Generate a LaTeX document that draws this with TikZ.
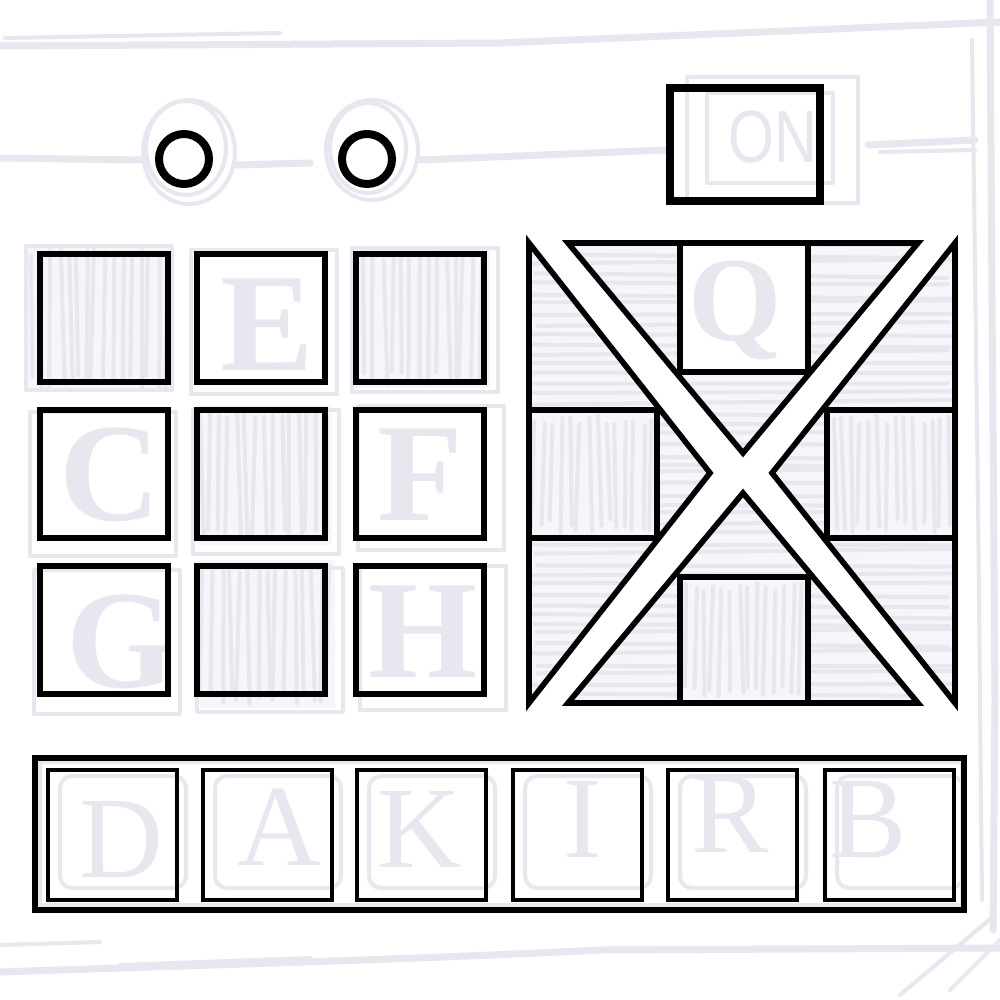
\documentclass[tikz,border=0pt]{standalone}
\usepackage{fontspec}
\setmainfont{Liberation Serif}
\newfontfamily\sansf{Liberation Sans}
\definecolor{faint}{HTML}{E6E7EF}
\definecolor{faintfill}{HTML}{F6F6FA}

\newcommand{\vhatch}[4]{%
  \fill[faintfill] (#1,#2) rectangle (#3,#4);
  \pgfmathtruncatemacro{\hn}{(#3-#1-6)/9}%
  \foreach \i in {0,...,\hn}{%
    \pgfmathsetmacro{\hxa}{#1+4+9*\i+2*rand}%
    \pgfmathsetmacro{\hxb}{\hxa+4*rand}%
    \pgfmathsetmacro{\hya}{#2+3+10*rnd}%
    \pgfmathsetmacro{\hyb}{#4-3-14*rnd}%
    \draw[hatchln] (\hxa,\hya) -- (\hxb,\hyb);
  }%
}
\newcommand{\hhatch}[4]{%
  \fill[faintfill] (#1,#2) rectangle (#3,#4);
  \pgfmathtruncatemacro{\hn}{(#4-#2-6)/10}%
  \foreach \i in {0,...,\hn}{%
    \pgfmathsetmacro{\hya}{#2+4+10*\i+2*rand}%
    \pgfmathsetmacro{\hyb}{\hya+5*rand}%
    \pgfmathsetmacro{\hxa}{#1+3+10*rnd}%
    \pgfmathsetmacro{\hxb}{#3-3-10*rnd}%
    \draw[hatchln] (\hxa,\hya) -- (\hxb,\hyb);
  }%
}

\begin{document}
\begin{tikzpicture}[x=0.5pt,y=-0.5pt,
  ink/.style={draw=black,line width=3pt},
  puz/.style={draw=black,line width=2.8pt,line join=miter},
  slot/.style={draw=black,line width=2.3pt},
  dotring/.style={draw=black,line width=4pt},
  onbox/.style={draw=black,line width=4pt},
  sk/.style={draw=faint,line width=2pt,line cap=round,line join=round},
  skb/.style={draw=faint,line width=3.5pt,line cap=round,line join=round},
  hatchln/.style={draw=faint,line width=2pt,line cap=round},
  serifletter/.style={text=faint,inner sep=0pt,anchor=base,font=\bfseries\fontsize{70}{70}\selectfont},
  handletter/.style={text=faint,inner sep=0pt,anchor=base,font=\fontsize{58}{58}\selectfont},
  ontext/.style={text=faint,inner sep=0pt,anchor=base,xscale=0.8,transform shape,font=\sansf\fontsize{37}{37}\selectfont},
]
\useasboundingbox (0,0) rectangle (1000,1000);
\fill[white] (0,0) rectangle (1000,1000);
\pgfmathsetseed{12}

% ---------- faint background sketch ----------
\draw[skb] (0,46) -- (500,43) -- (1000,22);
\draw[sk] (5,38) -- (280,33);
\draw[skb] (0,158) -- (140,160);
\draw[skb] (235,165) -- (310,163);
\draw[skb] (420,160) -- (665,150);
\draw[skb] (868,145) -- (975,140);
\draw[sk] (880,152) -- (975,150);
\draw[skb] (990,0) -- (992,300) -- (995,700) -- (993,930);
\draw[sk] (972,40) -- (978,500) -- (982,900);
\draw[skb] (0,972) .. controls (200,965) and (400,960) .. (600,950) -- (1000,948);
\draw[sk] (0,945) -- (100,942);
\draw[sk] (120,965) -- (310,958);
\draw[sk] (900,995) -- (995,915);
\draw[sk] (1000,940) -- (950,990);

% circle sketches
\draw[sk] (189,152) ellipse (46 and 52);
\draw[sk] (186,148) ellipse (40 and 47);
\draw[sk] (372,150) ellipse (46 and 50);
\draw[sk] (368,148) ellipse (38 and 45);

% ON sketch
\draw[sk] (687,77) rectangle (858,203);
\draw[sk] (707,93) rectangle (833,183);
\node[ontext] (on) at (773,163) {ON};

% left grid sketch: hatched cells
\vhatch{28}{246}{172}{392}
\vhatch{352}{248}{490}{388}
\vhatch{196}{405}{332}{545}
\vhatch{200}{560}{335}{708}
\foreach \cx/\cy/\dx/\dy in {40/254/-14/-8,197/254/-6/-4,356/254/-4/-6,40/410/-10/2,197/410/-4/0,356/410/2/-4,40/566/-6/4,197/566/0/2,356/566/4/0}{
  \draw[sk] (\cx+\dx,\cy+\dy) rectangle (\cx+\dx+146,\cy+\dy+144);
}
\node[serifletter] (lE) at (267,370) {E};
\node[serifletter] (lC) at (110,520) {C};
\node[serifletter] (lF) at (420,520) {F};
\node[serifletter] (lG) at (121,687) {G};
\node[serifletter] (lH) at (423,677) {H};

% right puzzle sketch
\begin{scope}
  \clip (529,243) -- (710,473) -- (529,703) -- cycle
        (568,243) -- (918,243) -- (743,453) -- cycle
        (955,243) -- (772,473) -- (955,703) -- cycle
        (568,703) -- (918,703) -- (743,493) -- cycle;
  \hhatch{525}{240}{960}{708}
\end{scope}
\fill[white] (680,243) rectangle (808,372);
\vhatch{531}{412}{655}{536}
\vhatch{829}{412}{953}{536}
\vhatch{682}{579}{806}{701}
\node[serifletter,font=\bfseries\fontsize{60}{60}\selectfont] (lQ) at (735,340) {Q};

% bottom sketch
\draw[sk] (40,762) rectangle (962,905);
\foreach \bx in {48,203,357,513,668,825}{
  \draw[sk,rounded corners=6pt] (\bx+12,776) rectangle (\bx+138,888);
}
\node[handletter] (lD) at (121,877) {D};
\node[handletter] (lA) at (279,865) {A};
\node[handletter] (lK) at (419,867) {K};
\node[handletter] (lI) at (583,857) {I};
\node[handletter] (lR) at (730,852) {R};
\node[handletter] (lB) at (868,857) {B};

% ---------- black drawing ----------
\draw[dotring] (184,159) circle (25);
\draw[dotring] (367,159) circle (25);
\draw[onbox] (670,88) rectangle (820,201);

\foreach \cx in {40,197,356}{
  \foreach \cy in {254,410,566}{
    \draw[ink] (\cx,\cy) rectangle ++(128,128);
  }
}

\draw[puz] (529,243) -- (710,473) -- (529,703) -- cycle;
\draw[puz] (568,243) -- (918,243) -- (743,453) -- cycle;
\draw[puz] (955,243) -- (772,473) -- (955,703) -- cycle;
\draw[puz] (568,703) -- (918,703) -- (743,493) -- cycle;
\draw[puz] (680,243) rectangle (808,372);
\draw[puz] (529,410) rectangle (657,538);
\draw[puz] (827,410) rectangle (955,538);
\draw[puz] (680,577) rectangle (808,703);

\draw[ink] (35,758) rectangle (964,910);
\foreach \bx in {48,203,357,513,668,825}{
  \draw[slot] (\bx,770) rectangle ++(129,130);
}
\end{tikzpicture}
\end{document}
